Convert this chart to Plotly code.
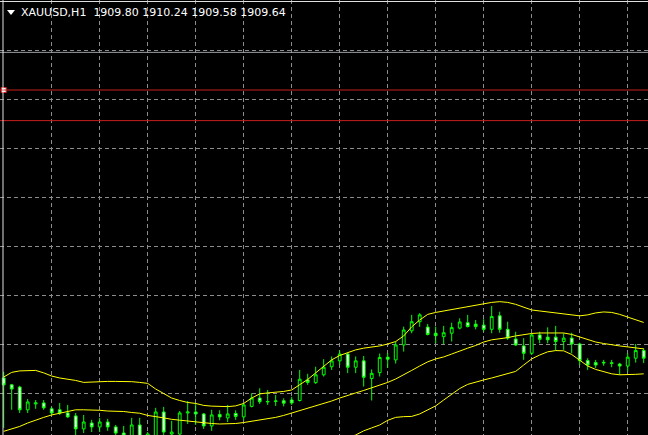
import plotly.graph_objects as go

# XAUUSD H1 - last 81 bars, oldest first
bars = list(range(81))

opens = [1908.62, 1908.34, 1908.25, 1907.32, 1907.56, 1907.60, 1907.36, 1907.32, 1907.19, 1907.07,
         1906.54, 1906.78, 1906.62, 1906.82, 1906.62, 1906.37, 1906.21, 1906.70, 1906.17, 1906.21,
         1907.23, 1906.33, 1906.33, 1907.19, 1907.23, 1907.15, 1906.66, 1907.13, 1906.99, 1907.17,
         1907.03, 1907.46, 1907.80, 1907.64, 1907.66, 1907.69, 1907.72, 1907.70, 1908.54, 1908.43,
         1908.75, 1909.08, 1909.32, 1909.60, 1909.06, 1909.32, 1908.60, 1908.84, 1909.47, 1909.36,
         1909.97, 1910.55, 1910.92, 1910.70, 1910.45, 1910.31, 1910.45, 1910.66, 1910.88, 1910.82,
         1910.78, 1910.61, 1911.16, 1910.61, 1910.21, 1909.93, 1909.63, 1910.38, 1910.29, 1910.29,
         1910.11, 1910.25, 1910.01, 1909.33, 1909.25, 1909.26, 1909.24, 1909.19, 1909.11, 1909.43,
         1909.74]
highs = [1908.87, 1908.38, 1908.30, 1907.76, 1907.72, 1907.72, 1907.44, 1907.60, 1907.52, 1907.19,
         1907.11, 1906.91, 1906.99, 1906.95, 1906.70, 1906.66, 1906.99, 1906.99, 1906.41, 1907.40,
         1907.44, 1906.87, 1907.27, 1907.68, 1907.60, 1907.19, 1907.32, 1907.30, 1907.52, 1907.30,
         1907.60, 1908.00, 1908.20, 1908.13, 1907.93, 1907.79, 1907.85, 1908.95, 1908.79, 1909.08,
         1909.39, 1909.50, 1909.75, 1909.64, 1909.50, 1909.52, 1908.97, 1909.62, 1909.64, 1910.11,
         1910.72, 1911.20, 1911.27, 1910.83, 1910.72, 1910.75, 1910.88, 1911.06, 1911.20, 1910.99,
         1911.02, 1911.56, 1911.33, 1910.92, 1910.51, 1910.25, 1910.45, 1910.51, 1910.69, 1910.75,
         1910.45, 1910.47, 1910.06, 1909.43, 1909.36, 1909.36, 1909.36, 1909.24, 1909.63, 1910.01,
         1909.84]
lows = [1906.58, 1907.32, 1907.19, 1907.19, 1907.36, 1907.32, 1907.11, 1907.11, 1906.99, 1906.21,
        1906.37, 1906.41, 1906.41, 1906.46, 1906.21, 1906.17, 1906.13, 1906.13, 1906.09, 1906.13,
        1906.21, 1906.17, 1906.21, 1906.74, 1906.70, 1906.54, 1906.46, 1906.89, 1906.82, 1906.91,
        1906.89, 1907.42, 1907.56, 1907.52, 1907.48, 1907.46, 1907.52, 1907.66, 1908.34, 1908.38,
        1908.68, 1908.95, 1909.15, 1908.82, 1908.82, 1908.27, 1907.70, 1908.68, 1909.03, 1909.21,
        1909.70, 1910.45, 1910.71, 1910.36, 1910.04, 1910.01, 1910.11, 1910.61, 1910.69, 1910.61,
        1910.51, 1910.45, 1910.47, 1910.18, 1909.93, 1909.36, 1909.56, 1910.04, 1910.04, 1909.74,
        1909.77, 1909.63, 1909.15, 1908.95, 1909.03, 1909.12, 1909.06, 1908.75, 1908.88, 1909.25,
        1909.23]
closes = [1908.34, 1908.17, 1907.32, 1907.64, 1907.60, 1907.40, 1907.19, 1907.19, 1907.03, 1906.54,
          1906.82, 1906.62, 1906.82, 1906.62, 1906.37, 1906.25, 1906.70, 1906.21, 1906.33, 1907.23,
          1906.41, 1906.41, 1907.19, 1907.23, 1907.15, 1906.66, 1907.11, 1907.03, 1907.15, 1907.05,
          1907.52, 1907.80, 1907.65, 1907.66, 1907.68, 1907.59, 1907.60, 1908.57, 1908.44, 1908.75,
          1909.06, 1909.32, 1909.60, 1909.06, 1909.32, 1908.65, 1908.81, 1909.46, 1909.39, 1909.97,
          1910.58, 1910.92, 1911.20, 1910.40, 1910.35, 1910.47, 1910.68, 1910.91, 1910.72, 1910.72,
          1910.61, 1911.13, 1910.61, 1910.25, 1909.97, 1909.63, 1910.38, 1910.20, 1910.18, 1910.11,
          1910.25, 1910.01, 1909.33, 1909.15, 1909.15, 1909.24, 1909.22, 1909.11, 1909.47, 1909.74,
          1909.43]

# Bollinger Bands as drawn on the chart
bb_upper = [1908.66, 1908.85, 1908.91, 1908.93, 1908.93, 1908.83, 1908.70, 1908.62, 1908.58, 1908.52,
            1908.44, 1908.46, 1908.47, 1908.48, 1908.48, 1908.48, 1908.47, 1908.44, 1908.40, 1908.17,
            1907.97, 1907.80, 1907.70, 1907.62, 1907.58, 1907.50, 1907.47, 1907.45, 1907.45, 1907.48,
            1907.58, 1907.80, 1907.97, 1908.01, 1908.03, 1908.07, 1908.13, 1908.34, 1908.56, 1908.83,
            1909.11, 1909.36, 1909.54, 1909.66, 1909.77, 1909.84, 1909.88, 1909.93, 1910.01, 1910.11,
            1910.34, 1910.71, 1910.99, 1911.22, 1911.30, 1911.36, 1911.42, 1911.48, 1911.54, 1911.61,
            1911.67, 1911.71, 1911.74, 1911.71, 1911.63, 1911.50, 1911.40, 1911.36, 1911.32, 1911.28,
            1911.26, 1911.22, 1911.16, 1911.20, 1911.28, 1911.32, 1911.30, 1911.22, 1911.12, 1910.99,
            1910.89]
bb_middle = [1906.44, 1906.54, 1906.64, 1906.78, 1906.91, 1907.01, 1907.11, 1907.19, 1907.27, 1907.32,
             1907.32, 1907.32, 1907.30, 1907.27, 1907.27, 1907.25, 1907.21, 1907.18, 1907.09, 1907.05,
             1906.99, 1906.93, 1906.89, 1906.85, 1906.82, 1906.78, 1906.76, 1906.74, 1906.74, 1906.76,
             1906.80, 1906.85, 1906.89, 1906.95, 1907.01, 1907.09, 1907.19, 1907.27, 1907.36, 1907.46,
             1907.56, 1907.68, 1907.80, 1907.89, 1908.01, 1908.11, 1908.21, 1908.32, 1908.44, 1908.58,
             1908.77, 1908.93, 1909.11, 1909.28, 1909.40, 1909.48, 1909.60, 1909.73, 1909.84, 1909.95,
             1910.09, 1910.18, 1910.22, 1910.27, 1910.34, 1910.40, 1910.44, 1910.46, 1910.47, 1910.47,
             1910.46, 1910.40, 1910.30, 1910.18, 1910.09, 1910.03, 1909.97, 1909.93, 1909.89, 1909.85,
             1909.81]
# lower band is below the visible window until bar 42
bb_lower = [None] * 42 + [
    1906.05, 1906.19, 1906.29, 1906.46, 1906.58, 1906.70, 1906.89, 1907.01,
    1907.04, 1907.05, 1907.15, 1907.32, 1907.48, 1907.72, 1907.97, 1908.19, 1908.36, 1908.46,
    1908.54, 1908.62, 1908.70, 1908.79, 1908.89, 1909.15, 1909.40, 1909.56, 1909.69, 1909.74,
    1909.73, 1909.58, 1909.36, 1909.11, 1908.97, 1908.87, 1908.79, 1908.75, 1908.75, 1908.77,
    1908.79]

hline_levels = [1920.39, 1919.14]   # two red horizontal lines
gray_level = 1921.93                # gray solid line near the top
grid_prices = [1908, 1910, 1912, 1914, 1916, 1918, 1920, 1922]
grid_bars = [6, 12, 18, 24, 30, 36, 42, 48, 54, 60, 66, 72, 78]
header = "XAUUSD,H1\u00a0\u00a01909.80 1910.24 1909.58 1909.64"

W, H = 648, 435
lime = "#00FF00"

fig = go.Figure()
fig.add_trace(go.Candlestick(
    x=bars, open=opens, high=highs, low=lows, close=closes,
    increasing=dict(line=dict(color=lime, width=1), fillcolor="#000000"),
    decreasing=dict(line=dict(color=lime, width=1), fillcolor="#FFFFFF"),
    whiskerwidth=0, hoverinfo="skip", showlegend=False))

for band in (bb_upper, bb_middle, bb_lower):
    fig.add_trace(go.Scatter(x=bars, y=band, mode="lines",
                             line=dict(color="#FFFF00", width=1),
                             hoverinfo="skip", showlegend=False))

for lvl in hline_levels:
    fig.add_hline(y=lvl, line=dict(color="#C81E1E", width=1))
fig.add_hline(y=gray_level, line=dict(color="#9A9EA4", width=1))

# selection handle on the upper red line
fig.add_trace(go.Scatter(x=[bars[0]], y=[hline_levels[0]], mode="markers",
                         marker=dict(symbol="square", size=5, color="white",
                                     line=dict(color="#D02020", width=1)),
                         hoverinfo="skip", showlegend=False))

# window frame (top and left)
fig.add_shape(type="line", xref="paper", yref="paper", x0=0, x1=1,
              y0=1 - 1.5 / H, y1=1 - 1.5 / H, line=dict(color="#E0E0E0", width=1))
fig.add_shape(type="line", xref="paper", yref="paper", x0=3 / W, x1=3 / W,
              y0=0, y1=1, line=dict(color="#E0E0E0", width=1))

# little down triangle before the symbol name
fig.add_shape(type="path", xref="paper", yref="paper",
              xsizemode="pixel", ysizemode="pixel", xanchor=0, yanchor=1,
              path="M 7 -10 L 15 -10 L 11 -15 Z",
              fillcolor="white", line=dict(color="white", width=0))

fig.add_annotation(text=header, xref="paper", yref="paper", x=19 / W, y=1 - 13 / H,
                   xanchor="left", yanchor="middle", showarrow=False,
                   font=dict(family="DejaVu Sans", size=11, color="white"))

grid = dict(showgrid=True, gridcolor="#8C8C8C", gridwidth=1, griddash="4px,3px",
            zeroline=False, showticklabels=False, ticks="", showline=False)

fig.update_layout(
    width=W, height=H, autosize=False,
    margin=dict(l=0, r=0, t=0, b=0, pad=0),
    paper_bgcolor="#000000", plot_bgcolor="#000000",
    boxgap=0.5,
    xaxis=dict(range=[-0.4625, 80.5375], tickvals=grid_bars,
               rangeslider=dict(visible=False), **grid),
    yaxis=dict(range=[1906.29, 1924.07], tickvals=grid_prices, **grid),
)

# the page should start at the very corner of the window
fig.write_html("out.html", config={"displayModeBar": False},
               post_script="document.body.style.margin='0px';")
